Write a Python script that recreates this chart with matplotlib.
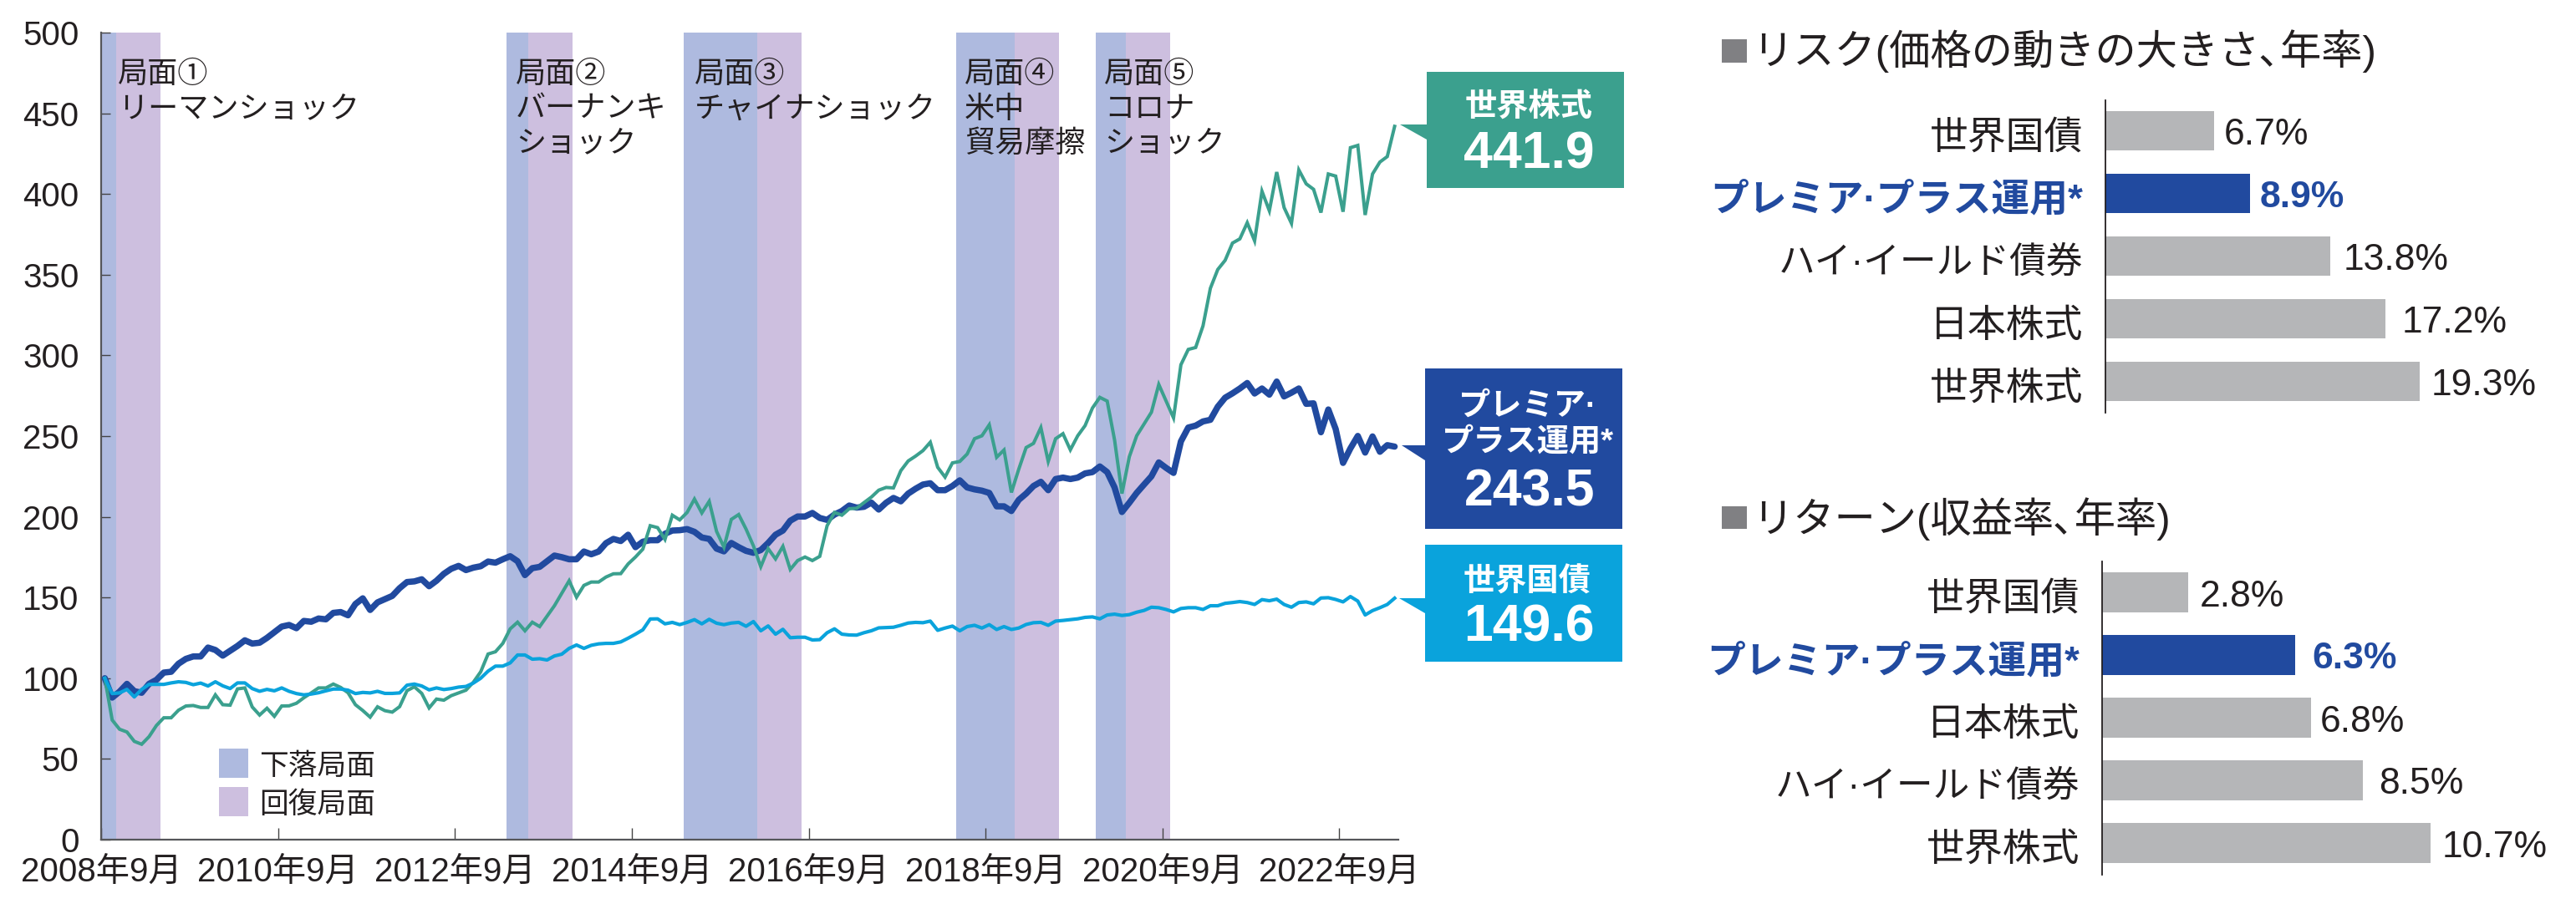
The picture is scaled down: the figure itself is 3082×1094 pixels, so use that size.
import numpy as np
import matplotlib
matplotlib.use("Agg")
import matplotlib.pyplot as plt
from matplotlib.patches import Polygon, Rectangle
from matplotlib.transforms import ScaledTranslation

plt.rcParams['font.family'] = ['Liberation Sans', 'Noto Sans CJK JP']

W, H = 3082, 1094

# 月次データ(2008年9月=100)
premium = [
    100, 88, 91.7, 96.5, 92, 91, 96.5, 99, 103.5, 104,
    109, 112, 113.5, 113.5, 119, 117.5, 114, 117, 120, 123.5,
    121.5, 122, 125, 128.5, 132, 133, 131, 135.5, 135, 137,
    136.5, 140.5, 141, 139, 146, 149.5, 142.3, 147, 149, 151,
    155.8, 159.6, 160, 161.3, 157, 160.4, 164.7, 167.8, 169.6, 167,
    168.5, 169.4, 172.3, 171.6, 173.7, 175.6, 172.5, 163.9, 168.2, 169,
    172.5, 176, 175, 173.7, 173.7, 178.5, 176.8, 178.5, 183.7, 186.3,
    185, 188.9, 181.2, 184.6, 185.5, 185.5, 189.5, 191.5, 191.7, 192.4,
    190.7, 187.2, 186.3, 180.3, 178.6, 183.8, 181.2, 178.9, 177.7, 179.4,
    183.8, 188.9, 191.5, 197.6, 200.2, 200.2, 202.4, 199.3, 198.1, 201.4,
    203.6, 207, 205.7, 206.2, 208.8, 204.5, 208.7, 211.7, 209.6, 214.4,
    217.4, 220, 220.8, 216.5, 216.5, 219.1, 222.6, 218.2, 217, 216.2,
    214.8, 206.5, 206.5, 203.6, 210.5, 214.4, 219.1, 221.7, 216.5, 223.4,
    224.3, 223.4, 224.3, 226.9, 227.7, 231.2, 227.7, 218.2, 203, 208.7,
    214.8, 220, 225.1, 233.7, 230.3, 227.2, 246.7, 255.3, 256.5, 259.1,
    260.1, 268.2, 273.8, 276.5, 279.5, 282.9, 276.4, 279.5, 275.7, 283.8,
    274.6, 276.9, 279.5, 270, 270.3, 252.4, 266.5, 254.4, 233.4, 242.4,
    250.1, 239.8, 249.8, 240.3, 244.4, 243.5,
]
world_stock = [
    100, 74.1, 68.4, 66.7, 60.9, 59.1, 63.8, 70.7, 75.5, 75.5,
    80.2, 82.8, 83.1, 81.9, 81.9, 89.7, 83.6, 83.3, 93.4, 94,
    82.2, 77.2, 81.4, 76.4, 82.8, 82.9, 84.5, 87.9, 90.9, 94,
    94, 96.4, 94.3, 91, 83.6, 80, 75.9, 82.3, 79.9, 79,
    82.4, 92.3, 94.7, 90.6, 81.6, 87.1, 86.4, 89.2, 90.9, 92.6,
    97.5, 104, 115, 116.4, 121.6, 130.6, 134.7, 129.4, 134.7, 132,
    138.5, 144.9, 152.7, 160.4, 150.2, 157.5, 159.6, 159.6, 162.7, 164.7,
    164.8, 170.8, 175.1, 180, 194.5, 193.3, 186, 201, 198.1, 202.7,
    211, 202.4, 209.6, 191, 181.2, 198.4, 201.4, 192.4, 182, 169.1,
    180.3, 173.9, 181.7, 167.4, 172.9, 175.1, 172.9, 175.5, 194.5, 202.7,
    201, 205, 205.3, 208.8, 212.2, 216.5, 218.2, 217.9, 228.6, 234.6,
    237.6, 241, 246.2, 230.7, 224.6, 233.4, 234.3, 238.9, 248.4, 250.2,
    257, 236.9, 241.4, 215.1, 229.5, 242.9, 245.5, 255.3, 234.3, 248.4,
    251.5, 241.5, 250.2, 256.5, 267.4, 274, 271.7, 247.6, 214.4, 237.2,
    250.2, 257.5, 264.8, 282, 271.7, 261.3, 294.2, 303.7, 304.9, 318.3,
    341.6, 353.2, 358.9, 369.6, 372.2, 382.2, 371, 401.7, 389.6, 413.6,
    391.6, 381.8, 414.9, 406.3, 402.9, 388.5, 412.4, 411.1, 389, 428.7,
    430.1, 387, 412.4, 419.8, 423.2, 441.9,
]
world_bond = [
    100, 90.5, 90.9, 93.1, 88.4, 93.1, 96.2, 96.2, 96.2, 97.1,
    97.8, 97.4, 96, 97, 95.2, 97.8, 95.3, 93.6, 97.1, 97.1,
    93.6, 91.9, 93.1, 92.2, 94, 91.9, 90.5, 89.7, 90.2, 91,
    92.2, 93.3, 93.3, 92.6, 90.5, 91.2, 90.9, 91.9, 90.6, 90.6,
    90.9, 95.7, 96.4, 95.2, 92.8, 94, 93, 93.6, 94.5, 94.9,
    97, 100, 104.4, 107.5, 107.5, 109.5, 114.4, 114.4, 111.8, 112.1,
    111.3, 113.8, 114.9, 118.5, 120.6, 118.5, 120.4, 121.3, 121.6, 121.6,
    122.5, 124.8, 127.3, 130, 136.7, 136.8, 133.7, 134.6, 133.2, 134.6,
    136.3, 133.7, 136.5, 134.1, 133.2, 134.2, 134.6, 132.2, 135.1, 129.4,
    132.4, 127.3, 130.3, 125.1, 125.4, 125.4, 123.7, 123.9, 128.2, 130.6,
    127.3, 126.8, 126.7, 128.2, 129.4, 131.2, 131.4, 131.6, 132.8, 134.2,
    134.6, 134.4, 135.4, 129.7, 131.1, 132.3, 129.4, 132, 132.8, 131.1,
    133.2, 130.2, 132, 130.2, 131.1, 133.3, 134.4, 134.6, 132.8, 135.4,
    135.8, 136.3, 136.8, 137.7, 138, 136.8, 139.2, 139.7, 138.9, 139.4,
    140.9, 142, 144, 143.7, 142.6, 141.1, 143.2, 143.7, 143.7, 142.6,
    144.9, 144.9, 146.4, 146.9, 147.5, 146.9, 145.7, 148.7, 148, 149,
    145.7, 144, 146.9, 147.3, 146.1, 149.7, 149.9, 148.8, 147.3, 150.6,
    147.8, 139.2, 141.9, 143.7, 145.7, 149.6,
]

# 局面(開始, 下落の終わり, 回復の終わり) 月数
phases = [(0, 2, 8), (55, 58, 64), (79, 89, 95), (116, 124, 130), (135, 139, 145)]

xtick_months = [0, 24, 48, 72, 96, 120, 144, 168]
xtick_labels = ['2008年9月', '2010年9月', '2012年9月', '2014年9月',
                '2016年9月', '2018年9月', '2020年9月', '2022年9月']
yticks = [0, 50, 100, 150, 200, 250, 300, 350, 400, 450, 500]

phase_notes = [
    ['局面①', 'リーマンショック'],
    ['局面②', 'バーナンキ', 'ショック'],
    ['局面③', 'チャイナショック'],
    ['局面④', '米中', '貿易摩擦'],
    ['局面⑤', 'コロナ', 'ショック'],
]
phase_note_x = [141, 617, 831, 1154, 1321]

risk_names = ['世界国債', 'プレミア·プラス運用*', 'ハイ·イールド債券', '日本株式', '世界株式']
risk_values = [6.7, 8.9, 13.8, 17.2, 19.3]
risk_gaps = [12, 12, 16, 20, 14]

return_names = ['世界国債', 'プレミア·プラス運用*', '日本株式', 'ハイ·イールド債券', '世界株式']
return_values = [2.8, 6.3, 6.8, 8.5, 10.7]
return_gaps = [14, 20, 11, 19, 13]

GREEN = '#3BA08E'
BLUE = '#214A9F'
CYAN = '#0AA3DC'
BAND_DOWN = '#AEBADF'
BAND_UP = '#CDBFDF'
GRAY = '#B5B6B8'
TEXT = '#231F20'


def fx(x):
    return x / W


def fy(y):
    return 1 - y / H


def add_axes_px(left, top, right, bottom):
    return fig.add_axes([fx(left), fy(bottom), (right - left) / W, (bottom - top) / H])


def put_text(x, y, s, size, **kw):
    kw.setdefault('color', TEXT)
    kw.setdefault('va', 'center')
    fig.text(fx(x), fy(y), s, fontsize=size, **kw)


def callout(x0, x1, y0, y1, tip_x, tip_y, color):
    pts = [(x0, y0), (x1, y0), (x1, y1), (x0, y1), (x0, tip_y + 18), (tip_x, tip_y), (x0, tip_y)]
    fig.add_artist(Polygon([(fx(a), fy(b)) for a, b in pts], closed=True, facecolor=color,
                           edgecolor='none', transform=fig.transFigure))


fig = plt.figure(figsize=(W / 100, H / 100), dpi=100)

# 左の折れ線
ax = add_axes_px(121, 39, 1673, 1005)
months = np.arange(len(premium)) + 0.5
for start, mid, end in phases:
    ax.axvspan(start, mid, color=BAND_DOWN, lw=0, zorder=1)
    ax.axvspan(mid, end, color=BAND_UP, lw=0, zorder=1)
ax.plot(months, premium, color=BLUE, lw=5.4, solid_capstyle='round', solid_joinstyle='round', zorder=3)
ax.plot(months, world_stock, color=GREEN, lw=2.9, solid_joinstyle='miter', zorder=4)
ax.plot(months, world_bond, color=CYAN, lw=3.0, solid_joinstyle='round', zorder=5)

ax.set_xlim(0, 176)
ax.set_ylim(0, 500)
ax.set_yticks(yticks)
ax.set_xticks(xtick_months)
ax.set_xticklabels(xtick_labels, fontsize=29, color=TEXT)
ax.tick_params(axis='y', direction='in', length=8, width=1, color='#444444',
               labelsize=29, labelcolor=TEXT, pad=19)
ax.tick_params(axis='x', direction='in', length=10, width=1, color='#444444', pad=14)
ax.spines['top'].set_visible(False)
ax.spines['right'].set_visible(False)
ax.spines['left'].set_color('#55565A')
ax.spines['bottom'].set_color('#55565A')
ax.spines['left'].set_linewidth(1.6)
ax.spines['bottom'].set_linewidth(1.6)

# 局面の注記
for notes, nx in zip(phase_notes, phase_note_x):
    for i, line in enumerate(notes):
        put_text(nx, 90 + i * 41, line, 26, zorder=10)

# 凡例
fig.add_artist(Rectangle((fx(262), fy(930.6)), 35 / W, 35 / H, facecolor=BAND_DOWN, edgecolor='none',
                         transform=fig.transFigure))
fig.add_artist(Rectangle((fx(262), fy(977)), 35 / W, 35 / H, facecolor=BAND_UP, edgecolor='none',
                         transform=fig.transFigure))
put_text(310, 918, '下落局面', 25)
put_text(310, 964, '回復局面', 25)

# 吹き出し
callout(1707, 1943, 86, 225, 1675, 149, GREEN)
callout(1705, 1941, 441, 633, 1677, 533, BLUE)
callout(1705, 1941, 652, 792, 1674, 716, CYAN)
put_text(1829, 129, '世界株式', 27.5, color='white', ha='center', fontweight='bold')
put_text(1829, 185, '441.9', 45, color='white', ha='center', fontweight='bold')
put_text(1828, 487, 'プレミア·', 27.5, color='white', ha='center', fontweight='bold')
put_text(1828, 530, 'プラス運用*', 27.5, color='white', ha='center', fontweight='bold')
put_text(1830, 589, '243.5', 45, color='white', ha='center', fontweight='bold')
put_text(1827, 697, '世界国債', 27.5, color='white', ha='center', fontweight='bold')
put_text(1829, 751, '149.6', 45, color='white', ha='center', fontweight='bold')


def draw_bars(ax_bar, names, values, gaps, scale):
    colors = [BLUE if n.startswith('プレミア') else GRAY for n in names]
    ypos = np.arange(len(names))
    ax_bar.barh(ypos, values, height=0.627, color=colors, edgecolor='none', zorder=2)
    ax_bar.set_xlim(0, 540 / scale)
    ax_bar.set_ylim(len(names) - 0.5, -0.5)
    ax_bar.set_xticks([])
    ax_bar.set_yticks(ypos)
    ax_bar.set_yticklabels(names, fontsize=33, color=TEXT)
    ax_bar.tick_params(axis='y', length=0, pad=19)
    for spine in ['top', 'right', 'bottom']:
        ax_bar.spines[spine].set_visible(False)
    ax_bar.spines['left'].set_color(TEXT)
    ax_bar.spines['left'].set_linewidth(1.3)
    ax_bar.spines['left'].set_zorder(5)
    shift = ScaledTranslation(0, -4 / 100, fig.dpi_scale_trans)
    for i, (n, v, g) in enumerate(zip(names, values, gaps)):
        is_main = n.startswith('プレミア')
        ax_bar.annotate(f'{v}%', (v, i), xytext=(g, -5), textcoords='offset pixels',
                        va='center', ha='left', fontsize=32,
                        color=BLUE if is_main else TEXT,
                        fontweight='bold' if is_main else 'normal')
        label = ax_bar.get_yticklabels()[i]
        label.set_transform(label.get_transform() + shift)
        if is_main:
            label.set_color(BLUE)
            label.set_fontweight('bold')
        elif 'イ' in n:
            label.set_fontsize(31.5)


# 右上 リスク
ax_risk = add_axes_px(2518.5, 119.5, 3058.5, 494)
draw_bars(ax_risk, risk_names, risk_values, risk_gaps, 19.5)
fig.add_artist(Rectangle((fx(2060), fy(74.7)), 30 / W, 28 / H, facecolor='#808083', edgecolor='none',
                         transform=fig.transFigure))
put_text(2096, 61, 'リスク(価格の動きの大きさ､年率)', 35.5)

# 右下 リターン
ax_ret = add_axes_px(2514.5, 671.5, 3054.5, 1046.5)
draw_bars(ax_ret, return_names, return_values, return_gaps, 36.8)
fig.add_artist(Rectangle((fx(2060), fy(633)), 30 / W, 27 / H, facecolor='#808083', edgecolor='none',
                         transform=fig.transFigure))
put_text(2096, 621, 'リターン(収益率､年率)', 35.5)

fig.savefig('out.png', dpi=100)
plt.close(fig)
